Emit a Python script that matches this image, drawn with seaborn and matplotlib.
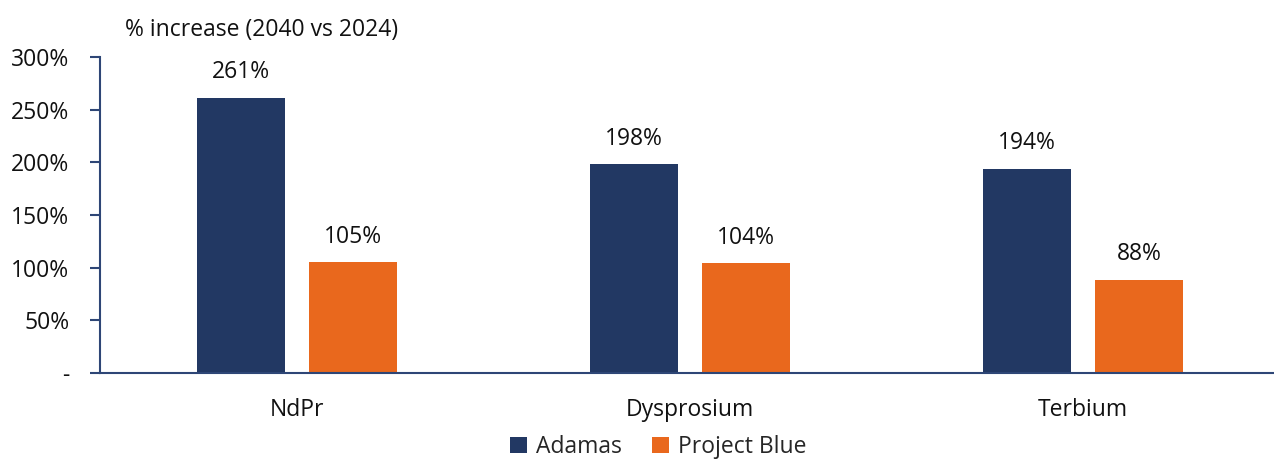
import matplotlib
matplotlib.use("Agg")
import matplotlib.pyplot as plt
import seaborn as sns
import pandas as pd

categories = ["NdPr", "Dysprosium", "Terbium"]
series_names = ["Adamas", "Project Blue"]
adamas = [261, 198, 194]
project_blue = [105, 104, 88]
ytick_values = [0, 50, 100, 150, 200, 250, 300]
ytick_labels = ["-", "50%", "100%", "150%", "200%", "250%", "300%"]
title = "% increase (2040 vs 2024)"

colors = ["#223863", "#E9681D"]
axis_color = "#2E4676"
fs = 16.5

df = pd.DataFrame({
    "category": categories * 2,
    "series": [series_names[0]] * 3 + [series_names[1]] * 3,
    "value": adamas + project_blue,
})

sns.set_theme(style="white")
plt.rcParams["font.family"] = ["Open Sans", "DejaVu Sans"]

fig = plt.figure(figsize=(12.74, 4.59), dpi=100)
ax = fig.add_axes([100 / 1274, 1 - 373 / 459, 1 - 100 / 1274, (373 - 57) / 459])

sns.barplot(data=df, x="category", y="value", hue="series", order=categories,
            hue_order=series_names, palette=colors, width=0.57, gap=0.21,
            saturation=1, ax=ax, legend=True, linewidth=0)

for container in ax.containers:
    ax.bar_label(container, labels=[f"{v:.0f}%" for v in container.datavalues],
                 padding=10, fontsize=fs, color="#111111")

ax.set_ylim(0, 300)
ax.set_xlim(-0.501, 2.486)
ax.set_yticks(ytick_values)
ax.set_yticklabels(ytick_labels, fontsize=fs, color="#111111")
ax.tick_params(axis="y", direction="out", length=7, width=1.5, color=axis_color, pad=15, left=True)
ax.tick_params(axis="x", length=0, pad=18, labelsize=fs, labelcolor="#111111")
ax.set_xlabel("")
ax.set_ylabel("")
for s in ["top", "right"]:
    ax.spines[s].set_visible(False)
for s in ["left", "bottom"]:
    ax.spines[s].set_color(axis_color)
    ax.spines[s].set_linewidth(1.5)

fig.text(125 / 1274, 1 - 30 / 459, title, fontsize=fs, color="#111111",
         ha="left", va="center")

handles, labels = ax.get_legend_handles_labels()
ax.legend_.remove()
fig.legend(handles, labels, loc="center", bbox_to_anchor=(658 / 1274, 1 - 447 / 459),
           ncol=2, frameon=False, fontsize=fs, handlelength=0.75, handleheight=0.75,
           handletextpad=0.4, columnspacing=1.3, borderaxespad=0)

fig.savefig("out.png", dpi=100)
